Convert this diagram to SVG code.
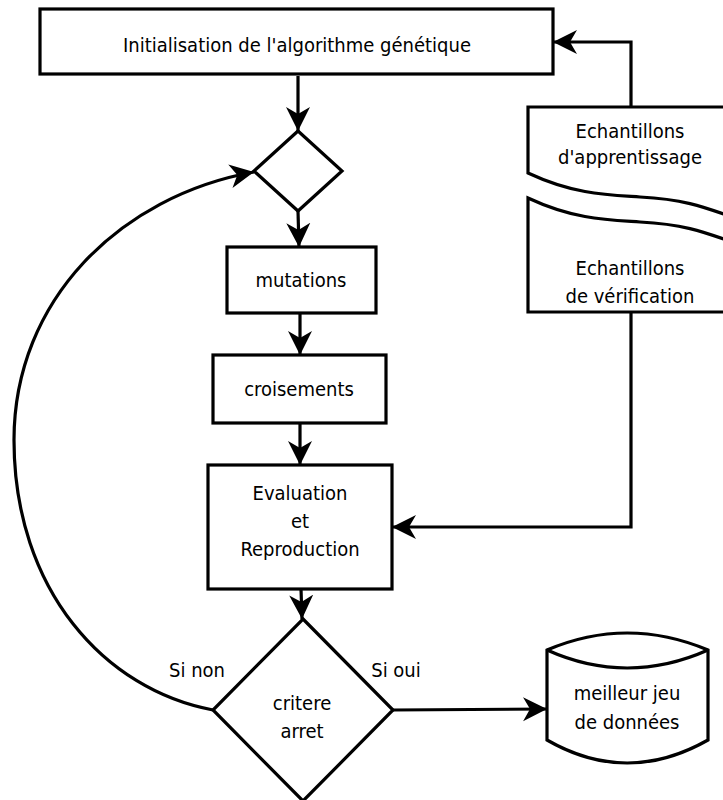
<svg xmlns="http://www.w3.org/2000/svg" width="723" height="800" viewBox="0 0 723 800">
<style>
.shape{fill:#fff;stroke:#000;stroke-width:3.2}
.open{fill:none;stroke:#000;stroke-width:3.2}
.edge{fill:none;stroke:#000;stroke-width:3.2;marker-end:url(#arr)}
text{font-family:"DejaVu Sans Condensed","DejaVu Sans",sans-serif;font-size:20px;fill:#000;text-anchor:middle}
</style>
<defs>
<marker id="arr" markerUnits="userSpaceOnUse" markerWidth="26" markerHeight="26" refX="24" refY="13" orient="auto" viewBox="0 0 26 26">
<path d="M24,13 L0,1 L7,13 L0,25 z" fill="#000"/>
</marker>
</defs>
<rect width="723" height="800" fill="#fff"/>
<g id="connectors">
<path class="edge" d="M298,76 L298,131"/>
<path class="edge" d="M298,211 L299,247"/>
<path class="edge" d="M300,313 L300,355"/>
<path class="edge" d="M300,423 L300,465"/>
<path class="edge" d="M301,589 L302,619"/>
<path class="edge" d="M393,710 L547,709"/>
<path class="edge" d="M631,107 L631,42 L553,42"/>
<path class="edge" d="M631,312 L631,527 L392,527"/>
<path class="edge" d="M213,710 C105,690 14,590 14,440 C14,300 120,196 254,172"/>
</g>
<g id="init">
<rect class="shape" x="40" y="9" width="513" height="65"/>
<text x="297" y="52">Initialisation de l'algorithme génétique</text>
</g>
<g id="decision1">
<path class="shape" d="M298,131 L342,171 L298,211 L254,171 z"/>
</g>
<g id="mutations">
<rect class="shape" x="227" y="247" width="149" height="66"/>
<text x="301" y="287">mutations</text>
</g>
<g id="croisements">
<rect class="shape" x="213" y="355" width="173" height="68"/>
<text x="299" y="396">croisements</text>
</g>
<g id="evaluation">
<rect class="shape" x="208" y="465" width="184" height="124"/>
<text x="300" y="500">Evaluation</text>
<text x="300" y="528">et</text>
<text x="300" y="556">Reproduction</text>
</g>
<g id="critere">
<path class="shape" d="M303,619 L393,710 L303,801 L213,710 z"/>
<text x="302" y="710">critere</text>
<text x="302" y="738">arret</text>
</g>
<g id="labels">
<text x="197" y="677">Si non</text>
<text x="396" y="677">Si oui</text>
</g>
<g id="meilleur">
<path class="shape" d="M547,650 Q627,616 708,650 L708,740 Q627,786 547,740 z"/>
<path class="open" d="M547,650 Q627,686 708,650"/>
<text x="627" y="700">meilleur jeu</text>
<text x="627" y="729">de données</text>
</g>
<g id="apprentissage">
<path class="shape" d="M740,107 L528,107 L528,173 C575,195 610,195 640,197 C680,199 700,205 740,220"/>
<text x="630" y="138">Echantillons</text>
<text x="630" y="164">d'apprentissage</text>
</g>
<g id="verification">
<path class="shape" d="M740,245 C700,230 680,224 640,222 C610,220 575,220 528,198 L528,312 L740,312"/>
<text x="630" y="275">Echantillons</text>
<text x="630" y="303">de vérification</text>
</g>
</svg>
